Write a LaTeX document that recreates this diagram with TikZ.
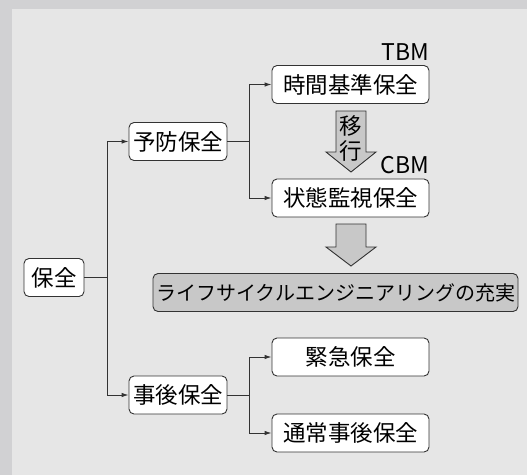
\documentclass[tikz,border=0pt]{standalone}
\usepackage{fontspec}
\setmainfont{Noto Sans CJK JP}
\usetikzlibrary{arrows.meta}
\definecolor{outerbg}{HTML}{D1D1D3}
\definecolor{innerbg}{HTML}{E6E6E6}
\definecolor{boxgray}{HTML}{C8C8C8}
\definecolor{linec}{HTML}{333333}
\begin{document}
\begin{tikzpicture}[x=1pt,y=-1pt,
  box/.style={draw=linec,line width=0.9pt,fill=white,rounded corners=5pt,
    minimum height=38pt,inner sep=0pt,font=\fontsize{22.5}{26}\selectfont},
  conn/.style={draw=linec,line width=0.9pt},
  arr/.style={conn,-{Latex[length=7pt,width=4.5pt]}},
  blockarrow/.style={draw=linec,line width=0.9pt,fill=boxgray},
  lbl/.style={inner sep=0pt,font=\fontsize{23}{26}\selectfont}]
\useasboundingbox (0,0) rectangle (527,475);
\fill[outerbg] (0,0) rectangle (527,475);
\fill[innerbg] (12,9) rectangle (527,475);

\node[box,minimum width=60pt] (hozen) at (54,277.5) {保全};
\node[box,minimum width=98pt] (yobo) at (178,141.5) {予防保全};
\node[box,minimum width=98pt] (jigo) at (178,395) {事後保全};
\node[box,minimum width=157pt] (tbm) at (350.5,84.5) {時間基準保全};
\node[box,minimum width=157pt] (cbm) at (350.5,198) {状態監視保全};
\node[box,minimum width=157pt] (kinkyu) at (350.5,357) {緊急保全};
\node[box,minimum width=157pt] (tsujo) at (350.5,433) {通常事後保全};
\node[box,minimum width=365pt,fill=boxgray,font=\fontsize{20}{24}\selectfont] (lce) at (335.5,292.5) {ライフサイクルエンジニアリングの充実};

\node[lbl,anchor=base east] (tbmlbl) at (429,60) {TBM};
\node[lbl,anchor=base east] (cbmlbl) at (429,173) {CBM};

% block arrows
\draw[blockarrow] (336,111) -- (366,111) -- (366,152) -- (376,152) -- (351,172)
  -- (326,152) -- (336,152) -- cycle;
\node[inner sep=0pt,align=center,font=\fontsize{22.5}{25}\selectfont] (iko) at (351,138) {移\\行};
\draw[blockarrow] (336,224) -- (366,224) -- (366,247) -- (376,247) -- (351,266)
  -- (326,247) -- (336,247) -- cycle;

% connectors
\coordinate (j1) at (107,277.5);
\coordinate (j2) at (249,141.5);
\coordinate (j3) at (249,395);
\draw[conn] (hozen.east) -- (j1);
\draw[arr] (j1) |- (yobo.west);
\draw[arr] (j1) |- (jigo.west);
\draw[conn] (yobo.east) -- (j2);
\draw[arr] (j2) |- (tbm.west);
\draw[arr] (j2) |- (cbm.west);
\draw[conn] (jigo.east) -- (j3);
\draw[arr] (j3) |- (kinkyu.west);
\draw[arr] (j3) |- (tsujo.west);
\end{tikzpicture}
\end{document}
